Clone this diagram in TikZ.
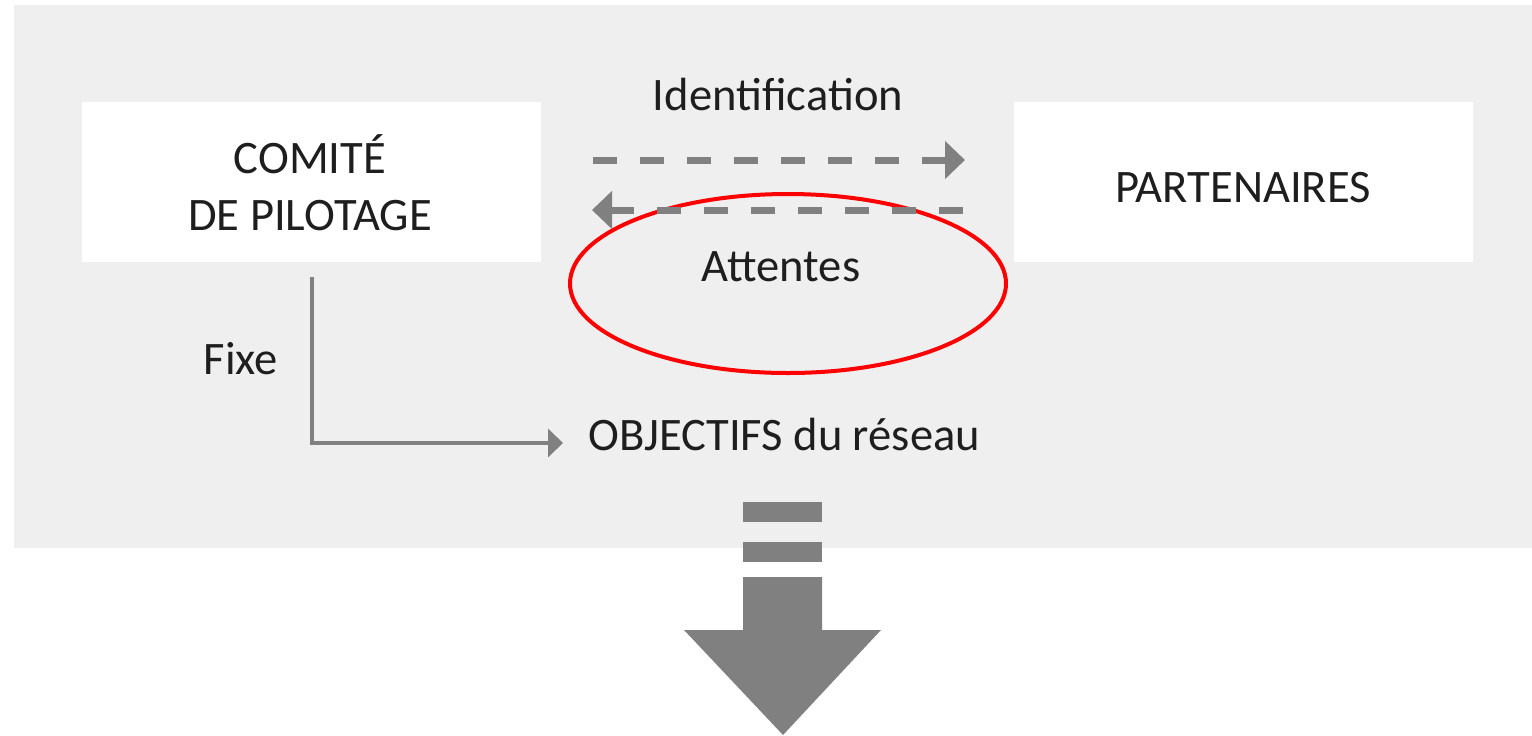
\documentclass[tikz,border=0pt]{standalone}
\usepackage{fontspec}
\setmainfont{Carlito}
\usetikzlibrary{arrows.meta,shapes.geometric,calc}
\definecolor{bggray}{HTML}{EFEFEF}
\definecolor{arrgray}{HTML}{808080}
\definecolor{txt}{HTML}{1E1E1E}
\tikzset{
  box/.style={fill=white, draw=none, minimum width={459*0.02cm}, minimum height={160*0.02cm}, inner sep=0pt},
  lbl/.style={text=txt, font=\fontsize{26.5}{32.3}\selectfont, inner sep=0pt, anchor=base},
  dasharrow/.style={draw=arrgray, line width={7*0.02cm}, dash pattern=on {24*0.02cm} off {23*0.02cm}, -{Triangle[length={20*0.02cm}, width={37*0.02cm}]}},
  flowarrow/.style={draw=arrgray, line width={4*0.02cm}, -{Triangle[length={15*0.02cm}, width={28*0.02cm}]}},
  ring/.style={ellipse, draw=red, line width={4*0.02cm}, minimum width={436*0.02cm}, minimum height={179*0.02cm}, inner sep=0pt},
  bigarrow/.style={fill=arrgray, draw=none}
}
\begin{document}
\begin{tikzpicture}[x=0.02cm, y=-0.02cm]
\useasboundingbox (0,0) rectangle (1532,735);
\fill[bggray] (14,5) rectangle (1532,548);
% boxes
\node[box] (comite) at (311.5,182) {};
\node[box] (partenaires) at (1243.5,182) {};
\node[lbl] (comiteA) at (310,173) {COMITÉ};
\node[lbl] (comiteB) at (310,230) {DE PILOTAGE};
\node[lbl] (partT) at (1243,202) {PARTENAIRES};
% labels
\node[lbl] (ident) at (778,110) {Identification};
\node[lbl] (attentes) at (781,281) {Attentes};
\node[lbl] (fixe) at (241,374) {Fixe};
\node[lbl, anchor=base west] (objectifs) at (588,450) {OBJECTIFS du réseau};
% ring
\node[ring] (circ) at (788,283.5) {};
% dashed arrows
\coordinate (d1s) at (593,160);
\coordinate (d1e) at (965,160);
\coordinate (d2s) at (963,210);
\coordinate (d2e) at (592,210);
\draw[dasharrow] (d1s) -- (d1e);
\draw[dasharrow] (d2s) -- (d2e);
% elbow arrow
\coordinate (e1) at (312,277);
\coordinate (e2) at (563,443);
\draw[flowarrow] (e1) |- (e2);
% big arrow
\fill[bigarrow] (743,502) rectangle (822,522);
\fill[bigarrow] (743,542) rectangle (822,562);
\fill[bigarrow] (743,577) -- (822,577) -- (822,630) -- (881,630) -- (783,735) -- (684,630) -- (743,630) -- cycle;
\end{tikzpicture}
\end{document}
